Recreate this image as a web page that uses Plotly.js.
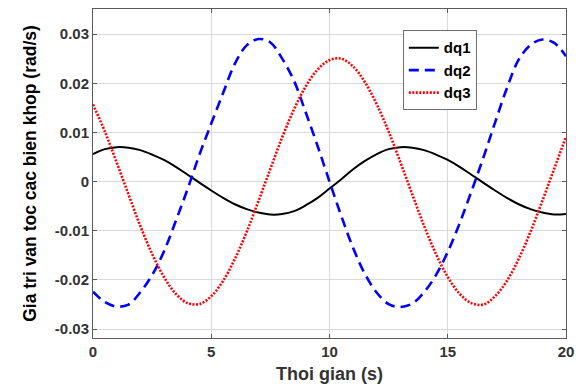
<!DOCTYPE html>
<html>
<head>
<meta charset="utf-8">
<script src="https://cdn.plot.ly/plotly-3.0.1.min.js"></script>
<style>
html,body{margin:0;padding:0;background:#fff;}
#chart{width:586px;height:388px;}
</style>
</head>
<body>
<div id="chart"></div>
<script>
// Time (s)
const time = [0,0.5,1,1.5,2,2.5,3,3.5,4,4.5,5,5.5,6,6.5,7,7.5,8,8.5,9,9.5,10,
  10.5,11,11.5,12,12.5,13,13.5,14,14.5,15,15.5,16,16.5,17,17.5,18,18.5,19,19.5,20];

const dq1 = [0.0056,0.0066,0.0070,0.0069,0.0064,0.0055,0.0044,0.0030,0.0014,-0.0002,
  -0.0018,-0.0033,-0.0046,-0.0056,-0.0063,-0.0067,-0.0066,-0.0060,-0.0048,-0.0033,-0.0014,
  0.0005,0.0025,0.0042,0.0056,0.0066,0.0070,0.0069,0.0064,0.0055,0.0044,
  0.0030,0.0014,-0.0002,-0.0018,-0.0033,-0.0046,-0.0056,-0.0063,-0.0067,-0.0066];

const dq2 = [-0.0224,-0.0245,-0.0254,-0.0250,-0.0225,-0.0190,-0.0142,-0.0080,-0.0015,0.0055,
  0.0118,0.0180,0.0240,0.0277,0.0290,0.0283,0.0250,0.0205,0.0140,0.0072,0.0000,
  -0.0070,-0.0135,-0.0188,-0.0226,-0.0249,-0.0255,-0.0248,-0.0225,-0.0190,-0.0143,
  -0.0085,-0.0020,0.0048,0.0120,0.0190,0.0248,0.0278,0.0289,0.0282,0.0255];

const dq3 = [0.0157,0.0102,0.0039,-0.0026,-0.0090,-0.0147,-0.0194,-0.0228,-0.0247,-0.0249,
  -0.0233,-0.0202,-0.0157,-0.0102,-0.0039,0.0026,0.0090,0.0147,0.0194,0.0228,0.0247,
  0.0250,0.0234,0.0202,0.0157,0.0102,0.0039,-0.0026,-0.0090,-0.0147,-0.0194,
  -0.0228,-0.0247,-0.0250,-0.0233,-0.0202,-0.0157,-0.0102,-0.0039,0.0026,0.0091];

const xTicks = [0,5,10,15,20];
const yTicks = [-0.03,-0.02,-0.01,0,0.01,0.02,0.03];
const yTickText = ["-0.03","-0.02","-0.01","0","0.01","0.02","0.03"];
const seriesNames = ["dq1","dq2","dq3"];

const FONT = "Liberation Sans, Arial, sans-serif";

const traces = [
  {x: time, y: dq1, name: seriesNames[0], type: "scatter", mode: "lines",
   line: {color: "#000000", width: 2, shape: "spline"}},
  {x: time, y: dq2, name: seriesNames[1], type: "scatter", mode: "lines",
   line: {color: "#0000ff", width: 2.6, dash: "10px,6px", shape: "spline"}},
  {x: time, y: dq3, name: seriesNames[2], type: "scatter", mode: "lines",
   line: {color: "#ff0000", width: 2.6, dash: "2px,1.5px", shape: "spline"}}
];

const axisCommon = {
  showline: true, mirror: "ticks", linecolor: "#5a5a5a", linewidth: 1,
  showgrid: true, gridcolor: "#d9d9d9", gridwidth: 1,
  zeroline: false, ticks: "inside", ticklen: 4, tickcolor: "#5a5a5a",
  tickfont: {family: FONT, size: 15, color: "#333333", weight: "bold"}
};

const layout = {
  width: 586, height: 388,
  margin: {l: 93, r: 20, t: 9, b: 50},
  paper_bgcolor: "#ffffff", plot_bgcolor: "#ffffff",
  showlegend: true,
  legend: {
    x: 0.655, y: 0.935, xanchor: "left", yanchor: "top",
    bgcolor: "#ffffff", bordercolor: "#6e6e6e", borderwidth: 1,
    font: {family: FONT, size: 15, color: "#000000", weight: "bold"},
    tracegroupgap: 0
  },
  xaxis: Object.assign({}, axisCommon, {
    range: [0, 20], tickvals: xTicks, ticktext: xTicks.map(String),
    title: {text: "Thoi gian (s)", standoff: 8,
            font: {family: FONT, size: 18, color: "#333333", weight: "bold"}}
  }),
  yaxis: Object.assign({}, axisCommon, {
    range: [-0.0318, 0.0351], tickvals: yTicks, ticktext: yTickText,
    title: {text: "Gia tri van toc cac bien khop (rad/s)", standoff: 13,
            font: {family: FONT, size: 17.5, color: "#000000", weight: "bold"}}
  })
};

Plotly.newPlot("chart", traces, layout, {displayModeBar: false, staticPlot: true});
</script>
</body>
</html>
